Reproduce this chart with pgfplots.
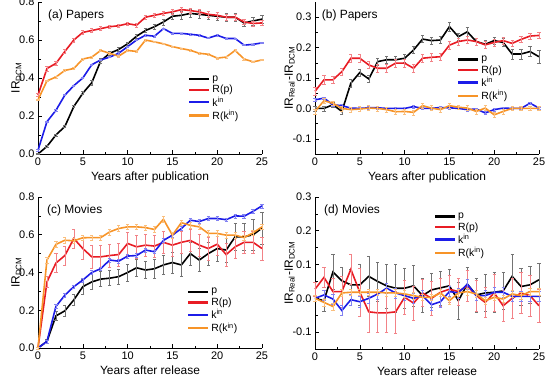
\documentclass[border=0pt]{standalone}
\usepackage{fontspec}
\setmainfont{Liberation Sans}
\usepackage{pgfplots}
\usepackage{pgfplotstable}
\pgfplotsset{compat=1.18}
\definecolor{cred}{RGB}{232,28,36}
\definecolor{cblue}{RGB}{28,28,232}
\definecolor{corange}{RGB}{247,148,40}

\pgfplotstableread{
x p ep rp erp k ek rk erk
0 0.000 0.003 0.310 0.008 0.020 0.003 0.285 0.004
1 0.040 0.004 0.450 0.012 0.170 0.003 0.385 0.004
2 0.100 0.005 0.477 0.010 0.230 0.003 0.405 0.004
3 0.145 0.006 0.540 0.010 0.310 0.003 0.440 0.004
4 0.250 0.006 0.600 0.010 0.360 0.003 0.450 0.004
5 0.320 0.008 0.640 0.010 0.400 0.003 0.500 0.004
6 0.375 0.012 0.650 0.010 0.470 0.003 0.510 0.004
7 0.490 0.012 0.660 0.010 0.495 0.003 0.545 0.004
8 0.530 0.010 0.670 0.010 0.510 0.003 0.530 0.004
9 0.550 0.010 0.675 0.010 0.530 0.003 0.515 0.004
10 0.580 0.010 0.686 0.010 0.565 0.003 0.545 0.004
11 0.620 0.010 0.678 0.010 0.600 0.003 0.540 0.004
12 0.650 0.010 0.720 0.012 0.625 0.003 0.600 0.004
13 0.670 0.012 0.730 0.012 0.620 0.003 0.590 0.004
14 0.695 0.015 0.740 0.012 0.660 0.003 0.580 0.004
15 0.725 0.018 0.748 0.012 0.635 0.003 0.565 0.004
16 0.730 0.020 0.760 0.014 0.635 0.003 0.555 0.004
17 0.740 0.020 0.755 0.014 0.630 0.003 0.546 0.004
18 0.735 0.020 0.748 0.014 0.625 0.003 0.530 0.004
19 0.730 0.020 0.735 0.014 0.610 0.003 0.525 0.004
20 0.725 0.020 0.730 0.014 0.625 0.003 0.505 0.004
21 0.720 0.020 0.720 0.014 0.608 0.003 0.510 0.004
22 0.720 0.020 0.720 0.014 0.608 0.003 0.545 0.004
23 0.690 0.020 0.695 0.014 0.573 0.003 0.500 0.004
24 0.700 0.020 0.687 0.014 0.577 0.003 0.485 0.004
25 0.710 0.020 0.690 0.014 0.585 0.003 0.495 0.004
}\tabA

\pgfplotstableread{
x p ep rp erp k ek rk erk
0 0.000 0.008 0.056 0.012 0.028 0.004 -0.010 0.008
1 0.000 0.008 0.094 0.014 0.034 0.004 0.025 0.008
2 0.012 0.008 0.094 0.012 0.012 0.004 0.017 0.008
3 -0.010 0.010 0.121 0.012 0.009 0.004 0.000 0.008
4 0.083 0.012 0.165 0.012 0.001 0.004 -0.004 0.008
5 0.118 0.012 0.165 0.012 0.000 0.004 -0.002 0.008
6 0.097 0.012 0.143 0.012 0.002 0.004 0.001 0.008
7 0.154 0.012 0.132 0.012 0.002 0.004 0.000 0.008
8 0.160 0.012 0.132 0.012 0.000 0.004 -0.004 0.008
9 0.160 0.012 0.149 0.012 0.000 0.004 -0.011 0.008
10 0.165 0.012 0.149 0.012 0.000 0.004 -0.010 0.008
11 0.192 0.012 0.132 0.012 0.006 0.004 -0.013 0.008
12 0.228 0.012 0.165 0.012 0.000 0.004 0.009 0.008
13 0.223 0.012 0.168 0.012 0.000 0.004 0.001 0.008
14 0.225 0.012 0.170 0.012 0.003 0.004 -0.004 0.008
15 0.269 0.014 0.208 0.012 0.002 0.004 0.009 0.008
16 0.236 0.012 0.220 0.012 0.000 0.004 0.004 0.008
17 0.252 0.016 0.225 0.012 -0.004 0.004 0.001 0.008
18 0.220 0.012 0.220 0.012 -0.002 0.004 -0.010 0.008
19 0.211 0.012 0.209 0.012 -0.015 0.004 0.001 0.008
20 0.223 0.012 0.217 0.012 -0.004 0.004 -0.021 0.008
21 0.217 0.014 0.223 0.012 0.001 0.004 -0.010 0.008
22 0.179 0.016 0.214 0.010 0.000 0.004 0.000 0.006
23 0.179 0.016 0.227 0.010 0.000 0.004 0.000 0.006
24 0.187 0.016 0.238 0.010 0.017 0.004 0.000 0.006
25 0.170 0.020 0.240 0.010 0.001 0.004 0.000 0.006
}\tabB

\pgfplotstableread{
x p ep rp erp k ek rk erk
0 0.000 0.005 0.000 0.005 0.000 0.005 0.000 0.005
1 0.035 0.012 0.350 0.030 0.035 0.008 0.466 0.015
2 0.170 0.025 0.450 0.050 0.220 0.010 0.549 0.015
3 0.197 0.030 0.490 0.050 0.280 0.010 0.571 0.015
4 0.255 0.030 0.580 0.050 0.325 0.010 0.568 0.015
5 0.325 0.040 0.527 0.055 0.360 0.010 0.584 0.015
6 0.350 0.040 0.483 0.060 0.400 0.010 0.585 0.015
7 0.365 0.040 0.483 0.060 0.420 0.010 0.585 0.015
8 0.370 0.040 0.490 0.060 0.466 0.010 0.615 0.015
9 0.378 0.040 0.495 0.060 0.460 0.010 0.633 0.015
10 0.400 0.045 0.554 0.060 0.487 0.010 0.642 0.015
11 0.425 0.045 0.536 0.060 0.490 0.010 0.642 0.015
12 0.413 0.045 0.545 0.060 0.519 0.010 0.638 0.015
13 0.420 0.050 0.540 0.060 0.510 0.010 0.628 0.015
14 0.440 0.050 0.560 0.060 0.570 0.010 0.682 0.015
15 0.453 0.055 0.545 0.060 0.598 0.010 0.598 0.015
16 0.440 0.060 0.560 0.060 0.633 0.010 0.664 0.015
17 0.500 0.060 0.570 0.060 0.677 0.010 0.650 0.015
18 0.466 0.060 0.545 0.060 0.670 0.010 0.642 0.015
19 0.500 0.060 0.527 0.060 0.686 0.010 0.607 0.015
20 0.527 0.065 0.550 0.060 0.686 0.010 0.607 0.015
21 0.519 0.065 0.495 0.060 0.680 0.010 0.598 0.015
22 0.589 0.070 0.536 0.060 0.700 0.010 0.598 0.015
23 0.589 0.070 0.560 0.060 0.698 0.010 0.585 0.015
24 0.600 0.080 0.560 0.060 0.724 0.010 0.610 0.015
25 0.635 0.085 0.527 0.060 0.753 0.010 0.642 0.015
}\tabC

\pgfplotstableread{
x p ep rp erp k ek rk erk
0 0.000 0.010 0.027 0.020 0.000 0.010 0.000 0.010
1 -0.007 0.030 0.062 0.030 0.010 0.015 -0.012 0.010
2 0.078 0.052 0.020 0.040 -0.002 0.015 -0.024 0.010
3 0.052 0.040 0.020 0.045 -0.036 0.015 0.016 0.010
4 0.040 0.045 0.086 0.045 -0.004 0.015 0.018 0.010
5 0.040 0.060 0.018 0.070 -0.010 0.015 0.018 0.010
6 0.065 0.060 -0.040 0.060 0.000 0.015 0.018 0.010
7 0.050 0.058 -0.043 0.058 0.013 0.015 0.018 0.010
8 0.037 0.065 -0.043 0.058 0.030 0.015 0.016 0.010
9 0.030 0.070 -0.040 0.062 0.016 0.015 0.016 0.010
10 0.030 0.060 0.003 0.050 0.008 0.015 0.013 0.010
11 0.037 0.060 -0.014 0.050 0.000 0.015 0.008 0.010
12 0.008 0.050 0.016 0.040 0.008 0.015 0.003 0.010
13 0.025 0.050 0.000 0.050 -0.019 0.015 0.003 0.010
14 0.031 0.050 0.018 0.040 -0.010 0.015 0.016 0.010
15 0.037 0.050 0.027 0.040 0.020 0.015 -0.007 0.010
16 -0.007 0.055 0.020 0.040 0.016 0.015 0.016 0.010
17 0.042 0.050 0.037 0.045 0.042 0.015 0.020 0.010
18 0.010 0.050 0.008 0.045 0.008 0.015 0.013 0.010
19 0.016 0.055 -0.012 0.045 0.008 0.015 -0.007 0.010
20 0.018 0.060 0.016 0.055 0.018 0.015 0.003 0.010
21 0.022 0.055 -0.022 0.045 0.018 0.015 -0.002 0.010
22 0.065 0.065 0.000 0.060 0.006 0.015 0.013 0.010
23 0.035 0.055 0.016 0.060 0.006 0.015 0.008 0.010
24 0.040 0.055 0.008 0.060 0.006 0.015 0.020 0.010
25 0.055 0.050 -0.022 0.050 0.006 0.015 0.020 0.010
}\tabD

\pgfplotsset{
  panel/.style={
    scale only axis, width=224bp, height=152bp,
    anchor=south west,
    axis x line*=bottom, axis y line*=left,
    tick align=inside,
    xmin=0, xmax=25, xtick={0,5,...,25}, minor x tick num=1,
    minor y tick num=1,
    major tick length=4bp, minor tick length=2.5bp,
    every tick/.style={black, line width=0.6pt},
    axis line style={line width=0.8pt},
    tick label style={font=\fontsize{11}{12}\selectfont},
    label style={font=\fontsize{12}{13}\selectfont},
    ylabel shift=-9bp,
    /pgf/number format/assume math mode=true,
    y tick label style={/pgf/number format/.cd, fixed, fixed zerofill, precision=1, /tikz/.cd},
    x tick label style={/pgf/number format/.cd, fixed, precision=0, /tikz/.cd},
    legend cell align=left,
    legend style={draw=none, fill=none, font=\fontsize{10.5}{11}\selectfont, inner sep=0pt, row sep=-1.5pt, anchor=north west},
    legend image code/.code={\draw[##1] (0bp,0bp) -- (20bp,0bp);},
    clip=false,
  },
  sp/.style={line width=1.6pt, mark=none, forget plot,
    error bars/.cd, y dir=both, y explicit,
    error bar style={line width=0.5pt, #1},
    error mark options={rotate=90, line width=0.5pt, mark size=1.6pt, #1}},
  leg/.code={
    \addlegendimage{black, line width=2.2pt}
    \addlegendimage{cred, line width=2.2pt}
    \addlegendimage{cblue, line width=2.2pt}
    \addlegendimage{corange, line width=2.2pt}
    \legend{p, R(p), k\textsuperscript{in}, R(k\textsuperscript{in})}
  },
}

\begin{document}
\begin{tikzpicture}
\useasboundingbox (0bp,0bp) rectangle (549bp,-377bp);

% (a)
\begin{axis}[panel, at={(38bp,-154bp)}, ymin=0, ymax=0.8, ytick={0,0.2,0.4,0.6,0.8},
  xlabel={Years after publication}, ylabel={IR\textsubscript{DCM}},
  legend style={at={(0.67,0.53)}}]
\addlegendimage{black, line width=2.2pt}
\addlegendimage{cred, line width=2.2pt}
\addlegendimage{cblue, line width=2.2pt}
\addlegendimage{corange, line width=2.2pt}
\addplot[black, sp=black!55] table[x=x, y=p, y error=ep] {\tabA};
\addplot[cred, sp=cred!55] table[x=x, y=rp, y error=erp] {\tabA};
\addplot[cblue, sp=cblue!55] table[x=x, y=k, y error=ek] {\tabA};
\addplot[corange, sp=corange!60] table[x=x, y=rk, y error=erk] {\tabA};
\legend{p, R(p), k\textsuperscript{in}, R(k\textsuperscript{in})}
\node[anchor=west, font=\fontsize{12}{13}\selectfont] at (rel axis cs:0.03,0.915) {(a) Papers};
\end{axis}

% (b)
\begin{axis}[panel, at={(315bp,-154bp)}, ymin=-0.15, ymax=0.35, ytick={-0.1,0,0.1,0.2,0.3},
  xlabel={Years after publication}, ylabel={IR\textsubscript{Real}-IR\textsubscript{DCM}},
  legend style={at={(0.634,0.66)}}]
\addlegendimage{black, line width=2.2pt}
\addlegendimage{cred, line width=2.2pt}
\addlegendimage{cblue, line width=2.2pt}
\addlegendimage{corange, line width=2.2pt}
\addplot[black, sp=black!55] table[x=x, y=p, y error=ep] {\tabB};
\addplot[cred, sp=cred!55] table[x=x, y=rp, y error=erp] {\tabB};
\addplot[cblue, sp=cblue!55] table[x=x, y=k, y error=ek] {\tabB};
\addplot[corange, sp=corange!60] table[x=x, y=rk, y error=erk] {\tabB};
\legend{p, R(p), k\textsuperscript{in}, R(k\textsuperscript{in})}
\node[anchor=west, font=\fontsize{12}{13}\selectfont] at (rel axis cs:0.015,0.915) {(b) Papers};
\end{axis}

% (c)
\begin{axis}[panel, at={(38bp,-348bp)}, height=151bp, ymin=0, ymax=0.8, ytick={0,0.2,0.4,0.6,0.8},
  xlabel={Years after release}, ylabel={IR\textsubscript{DCM}},
  legend style={at={(0.665,0.41)}}]
\addlegendimage{black, line width=2.2pt}
\addlegendimage{cred, line width=2.2pt}
\addlegendimage{cblue, line width=2.2pt}
\addlegendimage{corange, line width=2.2pt}
\addplot[black, sp=black!55] table[x=x, y=p, y error=ep] {\tabC};
\addplot[cred, sp=cred!55] table[x=x, y=rp, y error=erp] {\tabC};
\addplot[cblue, sp=cblue!55] table[x=x, y=k, y error=ek] {\tabC};
\addplot[corange, sp=corange!60] table[x=x, y=rk, y error=erk] {\tabC};
\legend{p, R(p), k\textsuperscript{in}, R(k\textsuperscript{in})}
\node[anchor=west, font=\fontsize{12}{13}\selectfont] at (rel axis cs:0.025,0.914) {(c) Movies};
\end{axis}

% (d)
\begin{axis}[panel, at={(315bp,-349bp)}, ymin=-0.15, ymax=0.3, ytick={-0.1,0,0.1,0.2,0.3},
  xlabel={Years after release}, ylabel={IR\textsubscript{Real}-IR\textsubscript{DCM}},
  legend style={at={(0.53,0.91)}}]
\addlegendimage{black, line width=2.2pt}
\addlegendimage{cred, line width=2.2pt}
\addlegendimage{cblue, line width=2.2pt}
\addlegendimage{corange, line width=2.2pt}
\addplot[black, sp=black!55] table[x=x, y=p, y error=ep] {\tabD};
\addplot[cred, sp=cred!55] table[x=x, y=rp, y error=erp] {\tabD};
\addplot[cblue, sp=cblue!55] table[x=x, y=k, y error=ek] {\tabD};
\addplot[corange, sp=corange!60] table[x=x, y=rk, y error=erk] {\tabD};
\legend{p, R(p), k\textsuperscript{in}, R(k\textsuperscript{in})}
\node[anchor=west, font=\fontsize{12}{13}\selectfont] at (rel axis cs:0.025,0.914) {(d) Movies};
\end{axis}
\end{tikzpicture}
\end{document}
